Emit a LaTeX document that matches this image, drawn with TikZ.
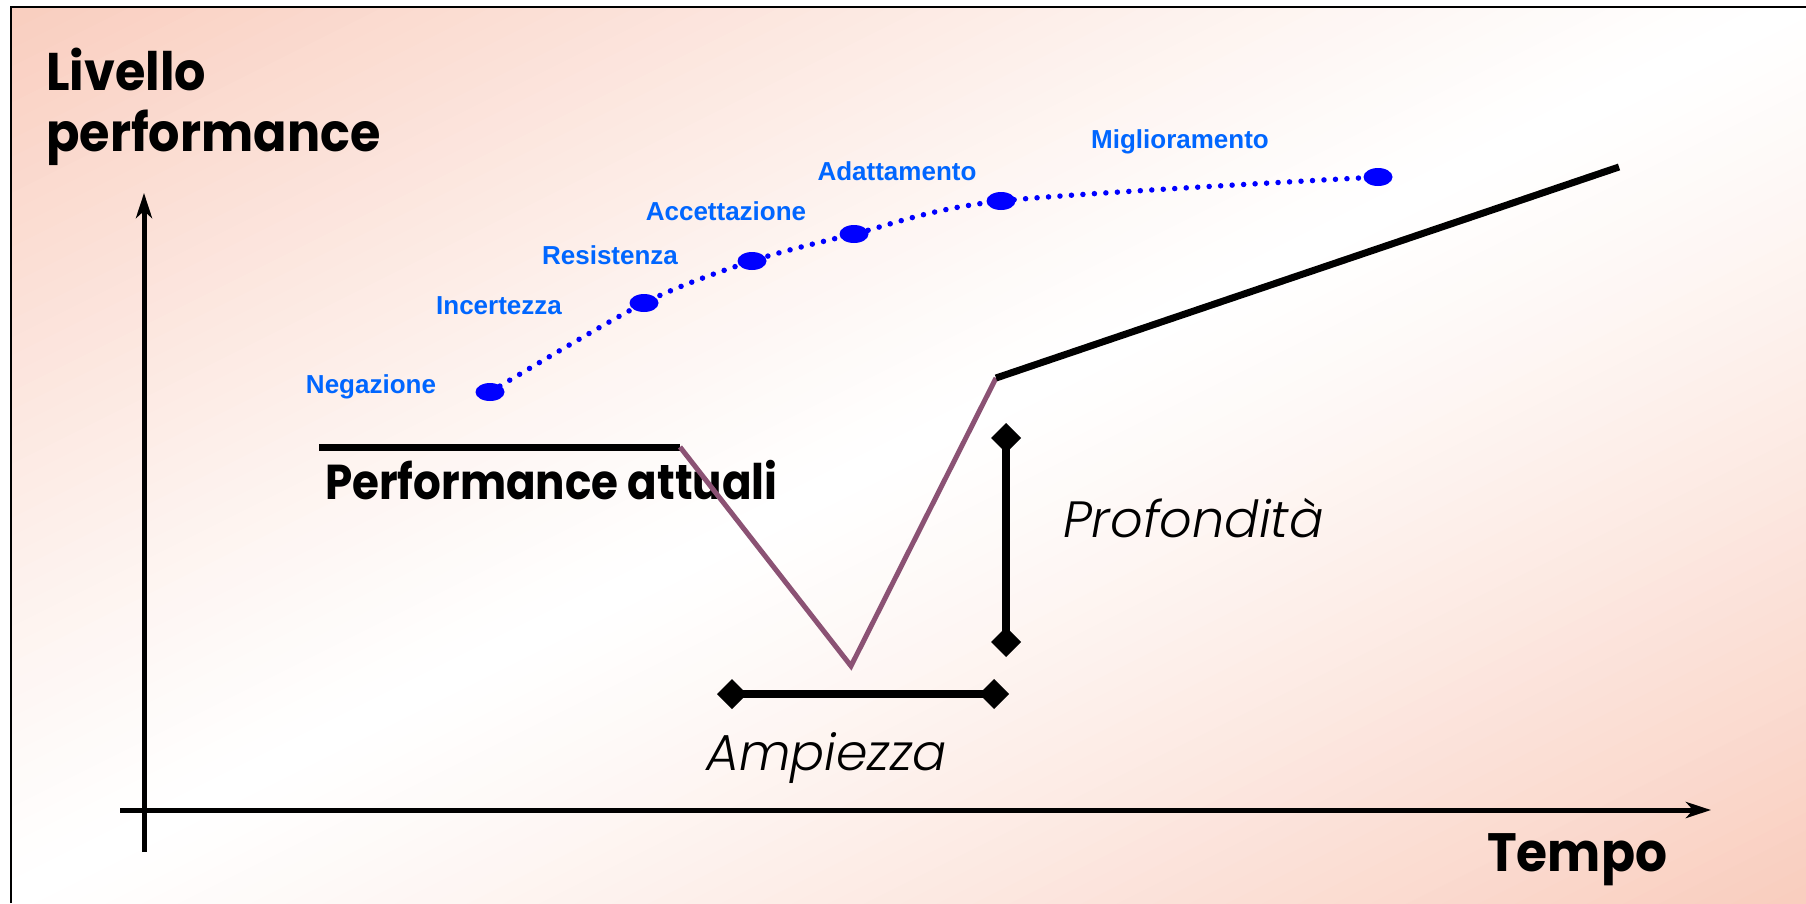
\documentclass[tikz,border=0pt]{standalone}
\usepackage{fontspec}
\setmainfont{Poppins}
\newfontfamily\gothic[FakeStretch=0.93]{Poppins}
\newfontfamily\gothicnarrow[FakeStretch=0.89]{Poppins}
\newfontface\thinitalic{Poppins Light Italic}
\newfontfamily\stagefont{Liberation Sans}
\usetikzlibrary{arrows.meta,shapes.geometric}
\definecolor{salmon}{RGB}{249,205,190}
\definecolor{dipline}{RGB}{139,82,116}
\definecolor{stageblue}{RGB}{0,102,255}
\definecolor{dotblue}{RGB}{0,0,255}
\begin{document}
\begin{tikzpicture}[x=1pt,y=-1pt,
  axis/.style={line width=5pt,-{Stealth[length=25pt 0 0,width=16pt 0,inset=7pt 0]}},
  level/.style={line width=7pt},
  dip/.style={draw=dipline,line width=5pt},
  gauge/.style={line width=8pt,{Diamond[length=30pt 0 0,width=30pt 0]}-{Diamond[length=30pt 0 0,width=30pt 0]}},
  stagedot/.style={ellipse,fill=dotblue,minimum width=29pt,minimum height=18pt,inner sep=0pt},
  stagelabel/.style={text=stageblue,font=\stagefont\bfseries\fontsize{26}{26}\selectfont,anchor=base,inner sep=0pt},
  bigtext/.style={anchor=base west,inner sep=0pt,font=\gothic\bfseries\fontsize{#1}{61}\selectfont},
  slimtext/.style={anchor=base west,inner sep=0pt,font=\thinitalic\fontsize{#1}{#1}\selectfont}]

% page and slide background: diagonal blend, salmon corners, white band
\useasboundingbox (0,0) rectangle (1806,903);
\fill[white] (0,0) rectangle (1806,903);
\begin{scope}
  \clip (11,7) rectangle (1806,903);
  \foreach \i in {0,...,99} {
    \pgfmathsetmacro\ua{\i/50}
    \pgfmathsetmacro\ub{(\i+1.3)/50}
    \pgfmathsetmacro\mix{100*abs((\i+0.5)/50-1)^1.2}
    \fill[salmon!\mix!white]
      ({\ua*1806+1806},-903) -- ({\ua*1806-3612},1806) --
      ({\ub*1806-3612},1806) -- ({\ub*1806+1806},-903) -- cycle;
  }
\end{scope}
\draw[line width=2pt] (11,903) -- (11,7) -- (1806,7);

% axes
\coordinate (yfoot) at (144,852);
\coordinate (ytop) at (144,193);
\coordinate (xstart) at (120,810);
\coordinate (xend) at (1711,810);
\draw[axis] (yfoot) -- (ytop);
\draw[axis] (xstart) -- (xend);

% axis titles
\node[bigtext=53,align=left] (ylab) at (46,151) {Livello\\performance};
\node[bigtext=54] (xlab) at (1487,871) {Tempo};
\node[anchor=base west,inner sep=0pt,font=\gothicnarrow\bfseries\fontsize{49}{49}\selectfont]
  (curlab) at (325,499) {Performance attuali};

% performance curve: current level, dip, recovery
\coordinate (cur0) at (319,447);
\coordinate (cur1) at (680,447);
\coordinate (trough) at (851,666);
\coordinate (rec) at (996,378);
\coordinate (fut) at (1619,167);
\draw[level] (cur0) -- (cur1);
\draw[dip] (cur1) -- (trough) -- (rec);
\draw[level] (rec) -- (fut);

% depth and width gauges
\coordinate (d1) at (1006,423);
\coordinate (d2) at (1006,657);
\draw[gauge] (d1) -- (d2);
\coordinate (w1) at (717,694);
\coordinate (w2) at (1009,694);
\draw[gauge] (w1) -- (w2);
\node[slimtext=51] (deplab) at (1063,537) {Profondità};
\node[slimtext=50.5] (widlab) at (706,770) {Ampiezza};

% stages of change
\node[stagedot] (s1) at (490,392) {};
\node[stagedot] (s2) at (644,303) {};
\node[stagedot] (s3) at (752,261) {};
\node[stagedot] (s4) at (854,234) {};
\node[stagedot] (s5) at (1001,201) {};
\node[stagedot] (s6) at (1378,177) {};
\draw[dotblue,line width=5.5pt,line cap=round,dash pattern=on 0pt off 11.5pt]
  plot[smooth,tension=0.5] coordinates {(s1) (s2) (s3) (s4) (s5) (s6)};

\node[stagelabel] (l1) at (371,393) {Negazione};
\node[stagelabel] (l2) at (499,314) {Incertezza};
\node[stagelabel] (l3) at (610,264) {Resistenza};
\node[stagelabel] (l4) at (726,220) {Accettazione};
\node[stagelabel] (l5) at (897,180) {Adattamento};
\node[stagelabel] (l6) at (1180,148) {Miglioramento};
\end{tikzpicture}
\end{document}
